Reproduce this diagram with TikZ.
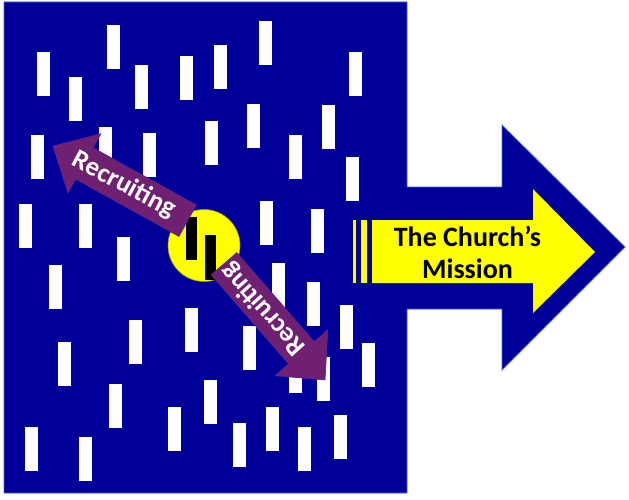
\documentclass[tikz,border=0pt]{standalone}
\usepackage{fontspec}
\setmainfont{Carlito}
\definecolor{navy}{RGB}{0,0,153}
\definecolor{navyedge}{RGB}{70,100,200}
\definecolor{purp}{RGB}{112,32,112}
\definecolor{purpedge}{RGB}{80,40,140}
\definecolor{yell}{RGB}{255,255,0}
\definecolor{circedge}{RGB}{150,150,40}
\tikzset{
  bar/.style={fill=white},
  purparrow/.style={fill=purp, draw=purpedge, line width=0.6pt},
  recruit/.style={text=white, font=\bfseries\fontsize{27}{30}\selectfont, inner sep=0pt},
  mission/.style={text=black, align=center, font=\bfseries\fontsize{28}{32}\selectfont, inner sep=0pt}
}
\begin{document}
\begin{tikzpicture}[x=1pt,y=-1pt]
\useasboundingbox (0,0) rectangle (629,500);
% blue field with the big arrow
\fill[navy, draw=navyedge, line width=0.8pt]
  (4,2) -- (407,2) -- (407,187) -- (502,187) -- (502,125) -- (625,247)
  -- (502,370) -- (502,309) -- (407,309) -- (407,493) -- (4,493) -- cycle;
% white bars
\foreach \x/\y in {37/52,69/77,107/25,135/65,180/56,214/45,259/21,349/52,
  31/135,99/127,143/133,205/121,247/104,289/135,322/105,346/157,
  19/204,79/204,117/237,260/201,311/209,
  49/265,272/263,307/282,340/305,185/308,129/320,58/342,243/326,362/343,
  289/349,317/357,109/384,204/380,168/407,266/407,233/423,298/427,334/415,
  25/427,79/437}
  \fill[bar] (\x,\y) rectangle ++(12.5,44);
% yellow arrow
\fill[yell] (353,220) rectangle (356,283);
\fill[yell] (361,220) rectangle (367,283);
\fill[yell] (372,220) -- (533,220) -- (533,189) -- (595,252) -- (533,313) -- (533,283) -- (372,283) -- cycle;
\node[mission] (mission) at (467.5,252) {The Church’s\\Mission};
% circle with black bars
\fill[yell, draw=circedge, line width=0.6pt] (204,245.5) circle[radius=36];
\fill[black] (186,217) rectangle (197,260);
\fill[black] (205,235) rectangle (216,280);
% purple arrows
\begin{scope}[shift={(187.7,220.7)}, rotate=151]
  \filldraw[purparrow] (0,-18) -- (118,-18) -- (118,-34) -- (154,0) -- (118,34) -- (118,18) -- (0,18) -- cycle;
\end{scope}
\begin{scope}[shift={(224,263.7)}, rotate=-49]
  \filldraw[purparrow] (0,-17) -- (118,-17) -- (118,-35) -- (154,0) -- (118,35) -- (118,17) -- (0,17) -- cycle;
\end{scope}
\node[recruit, rotate=-28] (rec1) at (124,185) {Recruiting};
\node[recruit, rotate=132] (rec2) at (263.4,309) {Recruiting};
\end{tikzpicture}
\end{document}
